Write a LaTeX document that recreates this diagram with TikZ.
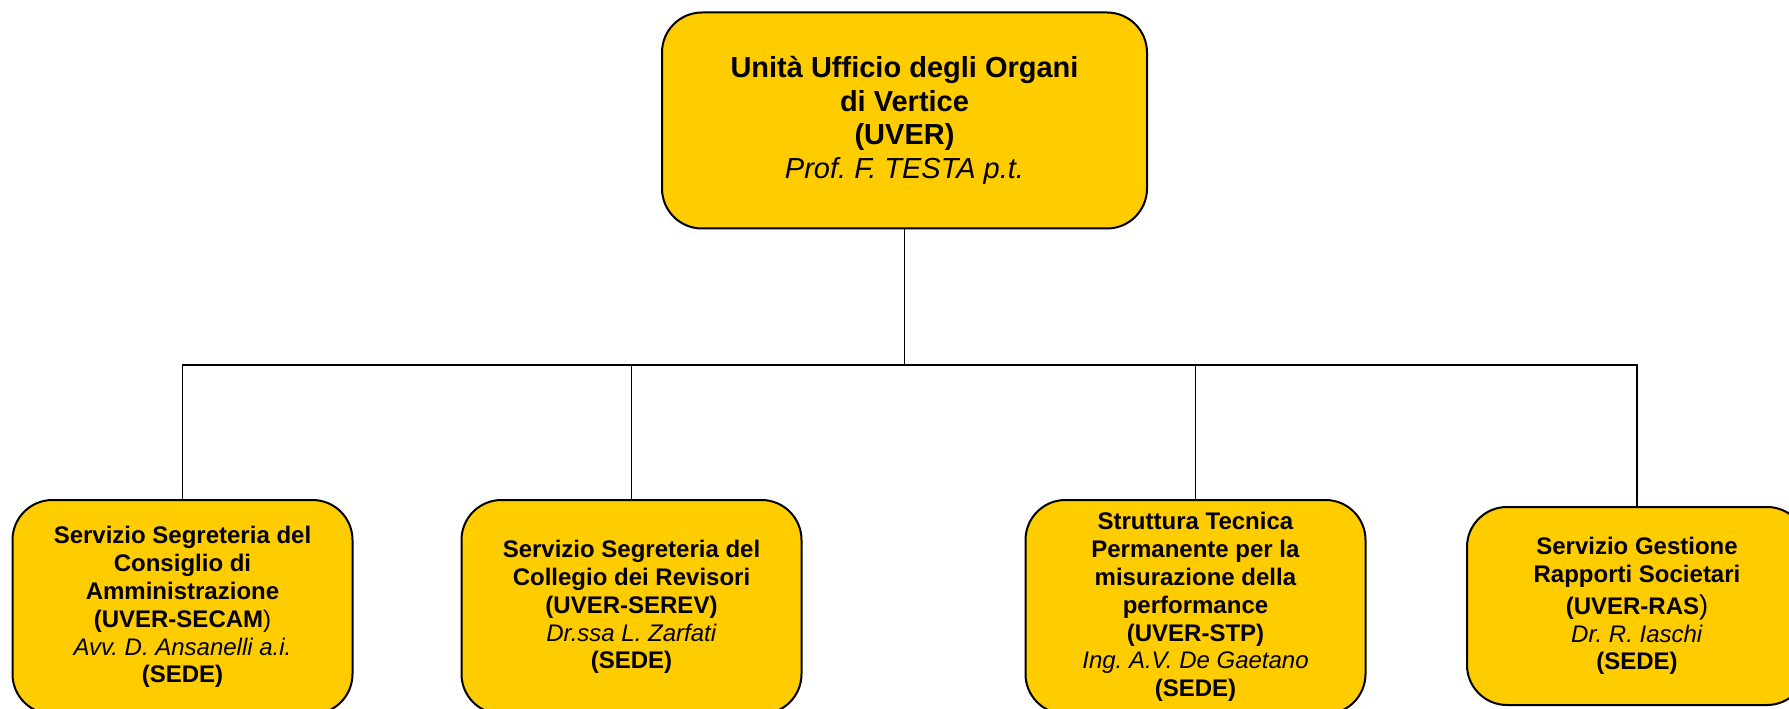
\documentclass[tikz,border=0pt]{standalone}
\usepackage{fontspec}
\setmainfont{Liberation Sans}
\frenchspacing

\tikzset{every picture/.style={line width=0.75pt}}
\tikzset{
  ufficio/.style={draw, line width=1.5pt, fill={rgb, 255:red, 255; green, 204; blue, 0 },
    rounded corners=30pt, align=center, inner sep=0pt},
  vertice/.style={ufficio, minimum width=363.75pt, minimum height=162pt,
    font={\fontsize{21.75}{25.3}\selectfont}},
  servizio/.style={ufficio, minimum width=255pt, minimum height=160.5pt,
    font={\fontsize{18}{20.9}\selectfont}},
  ramo/.style={line width=1.1pt}
}

\begin{document}
\begin{tikzpicture}[x=0.75pt,y=0.75pt,yscale=-1,xscale=1]
\useasboundingbox (0,0) rectangle (1789,709);

% Vertice
\node [vertice] (uver) at (904.5,120.5) {\textbf{Unità Ufficio degli Organi}\\ \textbf{di Vertice}\\ \textbf{(UVER)}\\ \textit{Prof. F. TESTA p.t.}};

% Servizi
\node [servizio] (secam) at (182.5,607) {\textbf{Servizio Segreteria del}\\ \textbf{Consiglio di}\\ \textbf{Amministrazione}\\ \textbf{(UVER-SECAM}\textnormal{)}\\ \textit{Avv. D. Ansanelli a.i.}\\ \textbf{(SEDE)}};
\node [servizio] (serev) at (631.5,607) {\textbf{Servizio Segreteria del}\\ \textbf{Collegio dei Revisori}\\ \textbf{(UVER-SEREV)}\\ \textit{Dr.ssa L. Zarfati}\\ \textbf{(SEDE)}};
\node [servizio] (stp) at (1195.5,607) {\textbf{Struttura Tecnica}\\ \textbf{Permanente per la}\\ \textbf{misurazione della}\\ \textbf{performance}\\ \textbf{(UVER-STP)}\\ \textit{Ing. A.V. De Gaetano}\\ \textbf{(SEDE)}};
\node [servizio, minimum height=148.5pt] (ras) at (1637,606) {\textbf{Servizio Gestione}\\ \textbf{Rapporti Societari}\\[3pt] \textbf{(UVER-RAS}{\fontsize{20.5}{20.9}\selectfont )}\\ \textit{Dr. R. Iaschi}\\ \textbf{(SEDE)}};

% Collegamenti
\coordinate (bus) at (904.5,365);
\draw [ramo] (uver.south) -- (bus);
\foreach \n in {secam,serev,stp,ras}
  \draw [ramo] (\n.north) |- (bus);

\end{tikzpicture}
\end{document}
